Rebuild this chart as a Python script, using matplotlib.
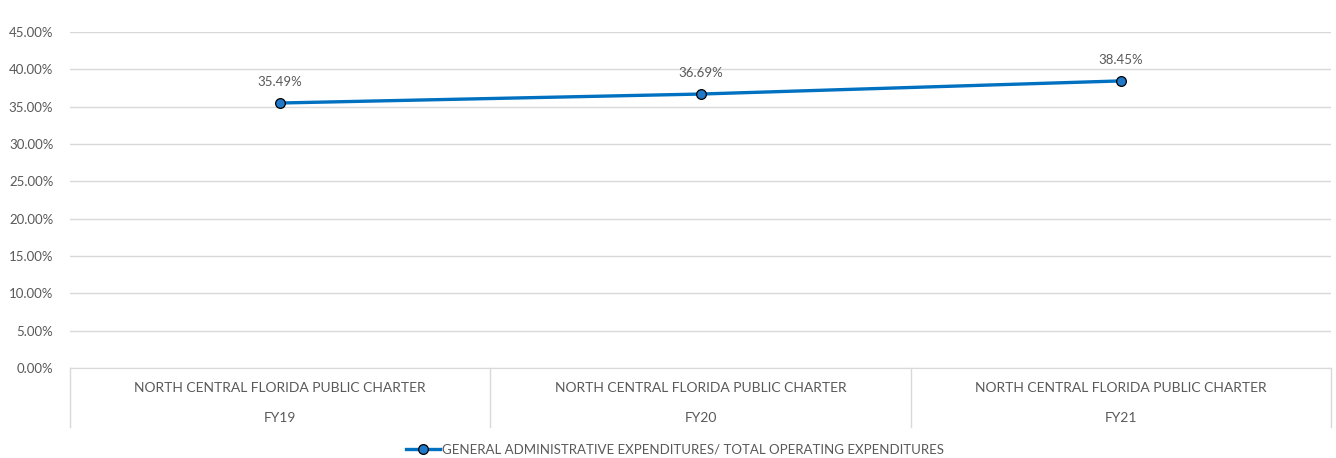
import numpy as np
import matplotlib.pyplot as plt
from matplotlib.ticker import PercentFormatter

plt.rcParams['font.family'] = ['Lato', 'DejaVu Sans']

# data
schools = ['NORTH CENTRAL FLORIDA PUBLIC CHARTER'] * 3
years = ['FY19', 'FY20', 'FY21']
ratio = [35.49, 36.69, 38.45]
series_name = 'GENERAL ADMINISTRATIVE EXPENDITURES/ TOTAL OPERATING EXPENDITURES'

txt = '#595959'
grid = '#D9D9D9'
blue = '#0070C0'

fig = plt.figure(figsize=(13.36, 4.58), dpi=100)
ax = fig.add_axes([70/1336, 1-368/458, 1261/1336, 336/458])

x = np.arange(len(years))
ln, = ax.plot(x, ratio, color=blue, lw=2.4, marker='o', ms=7,
              mfc='#1F78C8', mec='black', mew=0.9, label=series_name)
for xi, v in zip(x, ratio):
    ax.annotate('%.2f%%' % v, (xi, v), xytext=(0, 15), textcoords='offset points',
                ha='center', va='center', fontsize=9.5, color=txt)

ax.set_xlim(-0.5, 2.5)
ax.set_ylim(0, 45)
ax.set_yticks(np.arange(0, 46, 5))
ax.yaxis.set_major_formatter(PercentFormatter(decimals=2))
ax.tick_params(axis='y', length=0, labelsize=9.5, labelcolor=txt, pad=12)
ax.set_xticks([])
ax.grid(axis='y', color=grid, lw=1)
ax.set_axisbelow(True)
for s in ['top', 'right', 'left']:
    ax.spines[s].set_visible(False)
ax.spines['bottom'].set_color(grid)

# two-level category axis
tr = ax.get_xaxis_transform()
for xi, sch, yr in zip(x, schools, years):
    ax.text(xi, -0.0595, sch, transform=tr, ha='center', va='center', fontsize=10, color=txt)
    ax.text(xi, -0.149, yr, transform=tr, ha='center', va='center', fontsize=10, color=txt)
for b in np.arange(-0.5, 2.6, 1):
    ax.plot([b, b], [0, -0.176], transform=tr, color=grid, lw=1, clip_on=False)

fig.legend(handles=[ln], loc='center', bbox_to_anchor=(675/1336, 1-450/458), frameon=False,
           fontsize=9.5, labelcolor=txt, handlelength=2.6, handletextpad=0.1)

fig.savefig('out.png', dpi=100)
